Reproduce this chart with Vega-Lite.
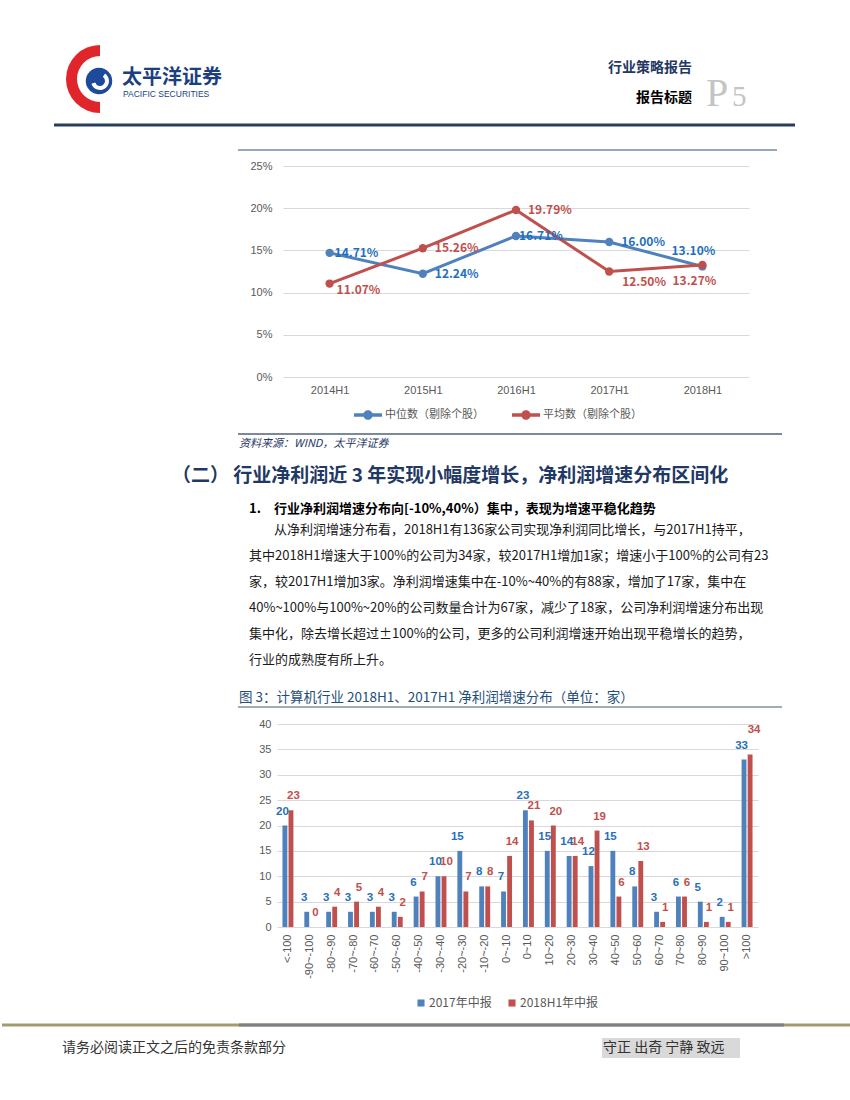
{
  "$schema": "https://vega.github.io/schema/vega-lite/v6.json",
  "padding": 0,
  "spacing": 0,
  "bounds": "flush",
  "background": "white",
  "resolve": {"scale": {"color": "independent"}, "legend": {"color": "independent"}},
  "config": {"view": {"stroke": null}, "font": "Noto Sans CJK SC"},
  "datasets": {
    "one": [{}],
    "trend": [
      {"period": "2014H1", "series": "中位数（剔除个股）", "value": 0.1471},
      {"period": "2015H1", "series": "中位数（剔除个股）", "value": 0.1224},
      {"period": "2016H1", "series": "中位数（剔除个股）", "value": 0.1671},
      {"period": "2017H1", "series": "中位数（剔除个股）", "value": 0.1600},
      {"period": "2018H1", "series": "中位数（剔除个股）", "value": 0.1310},
      {"period": "2014H1", "series": "平均数（剔除个股）", "value": 0.1107},
      {"period": "2015H1", "series": "平均数（剔除个股）", "value": 0.1526},
      {"period": "2016H1", "series": "平均数（剔除个股）", "value": 0.1979},
      {"period": "2017H1", "series": "平均数（剔除个股）", "value": 0.1250},
      {"period": "2018H1", "series": "平均数（剔除个股）", "value": 0.1327}
    ],
    "dist": [
      {"range": "<-100", "series": "2017年中报", "count": 20}, {"range": "<-100", "series": "2018H1年中报", "count": 23},
      {"range": "-90~-100", "series": "2017年中报", "count": 3}, {"range": "-90~-100", "series": "2018H1年中报", "count": 0},
      {"range": "-80~-90", "series": "2017年中报", "count": 3}, {"range": "-80~-90", "series": "2018H1年中报", "count": 4},
      {"range": "-70~-80", "series": "2017年中报", "count": 3}, {"range": "-70~-80", "series": "2018H1年中报", "count": 5},
      {"range": "-60~-70", "series": "2017年中报", "count": 3}, {"range": "-60~-70", "series": "2018H1年中报", "count": 4},
      {"range": "-50~-60", "series": "2017年中报", "count": 3}, {"range": "-50~-60", "series": "2018H1年中报", "count": 2},
      {"range": "-40~-50", "series": "2017年中报", "count": 6}, {"range": "-40~-50", "series": "2018H1年中报", "count": 7},
      {"range": "-30~-40", "series": "2017年中报", "count": 10}, {"range": "-30~-40", "series": "2018H1年中报", "count": 10},
      {"range": "-20~-30", "series": "2017年中报", "count": 15}, {"range": "-20~-30", "series": "2018H1年中报", "count": 7},
      {"range": "-10~-20", "series": "2017年中报", "count": 8}, {"range": "-10~-20", "series": "2018H1年中报", "count": 8},
      {"range": "0~-10", "series": "2017年中报", "count": 7}, {"range": "0~-10", "series": "2018H1年中报", "count": 14},
      {"range": "0~10", "series": "2017年中报", "count": 23}, {"range": "0~10", "series": "2018H1年中报", "count": 21},
      {"range": "10~20", "series": "2017年中报", "count": 15}, {"range": "10~20", "series": "2018H1年中报", "count": 20},
      {"range": "20~30", "series": "2017年中报", "count": 14}, {"range": "20~30", "series": "2018H1年中报", "count": 14},
      {"range": "30~40", "series": "2017年中报", "count": 12}, {"range": "30~40", "series": "2018H1年中报", "count": 19},
      {"range": "40~50", "series": "2017年中报", "count": 15}, {"range": "40~50", "series": "2018H1年中报", "count": 6},
      {"range": "50~60", "series": "2017年中报", "count": 8}, {"range": "50~60", "series": "2018H1年中报", "count": 13},
      {"range": "60~70", "series": "2017年中报", "count": 3}, {"range": "60~70", "series": "2018H1年中报", "count": 1},
      {"range": "70~80", "series": "2017年中报", "count": 6}, {"range": "70~80", "series": "2018H1年中报", "count": 6},
      {"range": "80~90", "series": "2017年中报", "count": 5}, {"range": "80~90", "series": "2018H1年中报", "count": 1},
      {"range": "90~100", "series": "2017年中报", "count": 2}, {"range": "90~100", "series": "2018H1年中报", "count": 1},
      {"range": ">100", "series": "2017年中报", "count": 33}, {"range": ">100", "series": "2018H1年中报", "count": 34}
    ],
    "body": [
      {"line": 1, "text": "从净利润增速分布看，2018H1有136家公司实现净利润同比增长，与2017H1持平，"},
      {"line": 2, "text": "其中2018H1增速大于100%的公司为34家，较2017H1增加1家；增速小于100%的公司有23"},
      {"line": 3, "text": "家，较2017H1增加3家。净利润增速集中在-10%~40%的有88家，增加了17家，集中在"},
      {"line": 4, "text": "40%~100%与100%~20%的公司数量合计为67家，减少了18家，公司净利润增速分布出现"},
      {"line": 5, "text": "集中化，除去增长超过±100%的公司，更多的公司利润增速开始出现平稳增长的趋势，"},
      {"line": 6, "text": "行业的成熟度有所上升。"}
    ]
  },
  "vconcat": [
    {
      "width": 850, "height": 166,
      "data": {"name": "one"},
      "layer": [
        {"mark": {"type": "arc", "theta": 3.1416, "theta2": 6.2832, "radius": 34, "radius2": 23, "fill": "#E0262B"}, "encoding": {"x": {"value": 98}, "y": {"value": 79}}},
        {"mark": {"type": "circle", "size": 700, "fill": "#1D4A9B", "opacity": 1}, "encoding": {"x": {"value": 97}, "y": {"value": 81}}},
        {"mark": {"type": "arc", "theta": 0.6, "theta2": 4.4, "radius": 9, "radius2": 5, "fill": "white"}, "encoding": {"x": {"value": 98}, "y": {"value": 81}}},
        {"mark": {"type": "text", "text": "太平洋证券", "fontSize": 20, "fontWeight": "bold", "fill": "#1C3F7F", "align": "left", "baseline": "middle"}, "encoding": {"x": {"value": 120}, "y": {"value": 78}}},
        {"mark": {"type": "text", "text": "PACIFIC SECURITIES", "font": "Liberation Sans", "fontSize": 8.5, "fill": "#1C3F7F", "align": "left", "baseline": "middle"}, "encoding": {"x": {"value": 121}, "y": {"value": 94}}},
        {"mark": {"type": "text", "text": "行业策略报告", "fontSize": 14, "fontWeight": "bold", "fill": "#1F3864", "align": "right", "baseline": "middle"}, "encoding": {"x": {"value": 690}, "y": {"value": 68}}},
        {"mark": {"type": "text", "text": "报告标题", "fontSize": 14, "fontWeight": "bold", "fill": "#000000", "align": "right", "baseline": "middle"}, "encoding": {"x": {"value": 690}, "y": {"value": 98}}},
        {"mark": {"type": "text", "text": "P", "font": "Liberation Serif", "fontSize": 40, "fill": "#C4C4C4", "align": "left", "baseline": "alphabetic"}, "encoding": {"x": {"value": 704}, "y": {"value": 106}}},
        {"mark": {"type": "text", "text": "5", "font": "Liberation Serif", "fontSize": 29, "fill": "#C4C4C4", "align": "left", "baseline": "alphabetic"}, "encoding": {"x": {"value": 730}, "y": {"value": 106}}},
        {"mark": {"type": "rule", "stroke": "#263E5E", "strokeWidth": 3}, "encoding": {"x": {"value": 52}, "x2": {"value": 793}, "y": {"value": 125}}},
        {"mark": {"type": "rule", "stroke": "#98A8BC", "strokeWidth": 2}, "encoding": {"x": {"value": 236}, "x2": {"value": 775}, "y": {"value": 150}}}
      ]
    },
    {
      "width": 850, "height": 211,
      "data": {"name": "trend"},
      "encoding": {
        "x": {"field": "period", "type": "nominal", "sort": null,
          "scale": {"type": "point", "domain": ["2014H1", "2015H1", "2016H1", "2017H1", "2018H1"], "range": [281, 747], "padding": 0.5},
          "axis": {"title": null, "domain": false, "ticks": false, "tickSize": 0, "grid": false, "labelAngle": 0, "labelPadding": 7, "labelColor": "#595959", "labelFontSize": 11, "labelFont": "Liberation Sans"}},
        "y": {"field": "value", "type": "quantitative",
          "scale": {"domain": [0, 0.25], "nice": false},
          "axis": {"title": null, "offset": -281, "values": [0, 0.05, 0.1, 0.15, 0.2, 0.25], "format": ".0%", "domain": false, "ticks": false, "tickSize": 0, "labelPadding": 11, "labelColor": "#595959", "labelFontSize": 11, "labelFont": "Liberation Sans", "grid": true, "gridColor": "#D9D9D9"}}
      },
      "layer": [
        {"mark": {"type": "line", "strokeWidth": 3},
          "encoding": {"color": {"field": "series", "type": "nominal", "sort": null,
            "scale": {"domain": ["中位数（剔除个股）", "平均数（剔除个股）"], "range": ["#4F81BD", "#C0504D"]},
            "legend": {"orient": "none", "legendX": 352, "legendY": 235, "direction": "horizontal", "title": null,
              "symbolType": "M-1,-0.12L-0.31,-0.12L-0.31,0.12L-1,0.12Z M0.31,-0.12L1,-0.12L1,0.12L0.31,0.12Z M-0.34,0A0.34,0.34 0 1,1 0.34,0A0.34,0.34 0 1,1 -0.34,0Z",
              "symbolSize": 784, "symbolStrokeWidth": 0, "labelFontSize": 11, "labelColor": "#595959", "columnPadding": 28, "labelOffset": 3,
              "encode": {"symbols": {"update": {"fill": {"scale": "color", "field": "value"}, "stroke": {"value": "transparent"}}}}}}}},
        {"mark": {"type": "point", "filled": true, "size": 70, "opacity": 1},
          "encoding": {"color": {"field": "series", "type": "nominal", "sort": null}}},
        {"transform": [{"filter": "datum.series == '中位数（剔除个股）' && datum.period == '2014H1'"}],
          "mark": {"type": "text", "fontSize": 12, "fontWeight": "bold", "fill": "#1F6FC0", "align": "left", "baseline": "middle", "dx": 5},
          "encoding": {"text": {"field": "value", "type": "quantitative", "format": ".2%"}}},
        {"transform": [{"filter": "datum.series == '中位数（剔除个股）' && (datum.period == '2015H1' || datum.period == '2017H1')"}],
          "mark": {"type": "text", "fontSize": 12, "fontWeight": "bold", "fill": "#1F6FC0", "align": "left", "baseline": "middle", "dx": 12},
          "encoding": {"text": {"field": "value", "type": "quantitative", "format": ".2%"}}},
        {"transform": [{"filter": "datum.series == '中位数（剔除个股）' && datum.period == '2016H1'"}],
          "mark": {"type": "text", "fontSize": 12, "fontWeight": "bold", "fill": "#1F6FC0", "align": "left", "baseline": "middle", "dx": 3},
          "encoding": {"text": {"field": "value", "type": "quantitative", "format": ".2%"}}},
        {"transform": [{"filter": "datum.series == '中位数（剔除个股）' && datum.period == '2018H1'"}],
          "mark": {"type": "text", "fontSize": 12, "fontWeight": "bold", "fill": "#1F6FC0", "align": "center", "baseline": "middle", "dx": -9, "dy": -15},
          "encoding": {"text": {"field": "value", "type": "quantitative", "format": ".2%"}}},
        {"transform": [{"filter": "datum.series == '平均数（剔除个股）' && datum.period == '2014H1'"}],
          "mark": {"type": "text", "fontSize": 12, "fontWeight": "bold", "fill": "#C0504D", "align": "left", "baseline": "middle", "dx": 7, "dy": 6},
          "encoding": {"text": {"field": "value", "type": "quantitative", "format": ".2%"}}},
        {"transform": [{"filter": "datum.series == '平均数（剔除个股）' && (datum.period == '2015H1' || datum.period == '2016H1')"}],
          "mark": {"type": "text", "fontSize": 12, "fontWeight": "bold", "fill": "#C0504D", "align": "left", "baseline": "middle", "dx": 12},
          "encoding": {"text": {"field": "value", "type": "quantitative", "format": ".2%"}}},
        {"transform": [{"filter": "datum.series == '平均数（剔除个股）' && datum.period == '2017H1'"}],
          "mark": {"type": "text", "fontSize": 12, "fontWeight": "bold", "fill": "#C0504D", "align": "left", "baseline": "middle", "dx": 13, "dy": 10},
          "encoding": {"text": {"field": "value", "type": "quantitative", "format": ".2%"}}},
        {"transform": [{"filter": "datum.series == '平均数（剔除个股）' && datum.period == '2018H1'"}],
          "mark": {"type": "text", "fontSize": 12, "fontWeight": "bold", "fill": "#C0504D", "align": "center", "baseline": "middle", "dx": -8, "dy": 16},
          "encoding": {"text": {"field": "value", "type": "quantitative", "format": ".2%"}}}
      ]
    },
    {
      "width": 850, "height": 347,
      "layer": [
        {"data": {"name": "one"}, "mark": {"type": "rule", "stroke": "#4F6278", "strokeWidth": 1.5}, "encoding": {"x": {"value": 236}, "x2": {"value": 780}, "y": {"value": 57}}},
        {"data": {"name": "one"}, "mark": {"type": "text", "text": "资料来源：WIND，太平洋证券", "fontSize": 11, "fontStyle": "italic", "fill": "#1F3864", "align": "left", "baseline": "middle"}, "encoding": {"x": {"value": 237}, "y": {"value": 67}}},
        {"data": {"name": "one"}, "mark": {"type": "text", "text": "（二） 行业净利润近 3 年实现小幅度增长，净利润增速分布区间化", "fontSize": 19, "fontWeight": "bold", "fill": "#1F3864", "align": "left", "baseline": "middle"}, "encoding": {"x": {"value": 170}, "y": {"value": 99}}},
        {"data": {"name": "one"}, "mark": {"type": "text", "text": "1.", "fontSize": 13, "fontWeight": "bold", "fill": "#000000", "align": "left", "baseline": "middle"}, "encoding": {"x": {"value": 247}, "y": {"value": 132}}},
        {"data": {"name": "one"}, "mark": {"type": "text", "text": "行业净利润增速分布向[-10%,40%）集中，表现为增速平稳化趋势", "fontSize": 13, "fontWeight": "bold", "fill": "#000000", "align": "left", "baseline": "middle"}, "encoding": {"x": {"value": 272}, "y": {"value": 132}}},
        {"data": {"name": "body"}, "transform": [{"filter": "datum.line == 1"}], "mark": {"type": "text", "fontSize": 13, "fill": "#1A1A1A", "align": "left", "baseline": "middle"},
          "encoding": {"x": {"value": 272}, "y": {"field": "line", "type": "ordinal", "scale": {"type": "point", "domain": [1, 2, 3, 4, 5, 6], "range": [153, 283], "padding": 0}, "axis": null}, "text": {"field": "text"}}},
        {"data": {"name": "body"}, "transform": [{"filter": "datum.line > 1"}], "mark": {"type": "text", "fontSize": 13, "fill": "#1A1A1A", "align": "left", "baseline": "middle"},
          "encoding": {"x": {"value": 247}, "y": {"field": "line", "type": "ordinal", "axis": null}, "text": {"field": "text"}}},
        {"data": {"name": "one"}, "mark": {"type": "text", "text": "图 3：计算机行业 2018H1、2017H1 净利润增速分布（单位：家）", "fontSize": 13.5, "fill": "#1F4E79", "align": "left", "baseline": "middle"}, "encoding": {"x": {"value": 237}, "y": {"value": 321}}},
        {"data": {"name": "one"}, "mark": {"type": "rule", "stroke": "#7F8EA3", "strokeWidth": 1.5}, "encoding": {"x": {"value": 236}, "x2": {"value": 780}, "y": {"value": 330}}}
      ]
    },
    {
      "width": 850, "height": 203,
      "data": {"name": "dist"},
      "encoding": {
        "x": {"field": "range", "type": "nominal", "sort": null,
          "scale": {"type": "band", "domain": ["<-100", "-90~-100", "-80~-90", "-70~-80", "-60~-70", "-50~-60", "-40~-50", "-30~-40", "-20~-30", "-10~-20", "0~-10", "0~10", "10~20", "20~30", "30~40", "40~50", "50~60", "60~70", "70~80", "80~90", "90~100", ">100"], "range": [275, 756], "paddingInner": 0.5, "paddingOuter": 0.25},
          "axis": {"title": null, "labelAngle": -90, "domain": false, "ticks": false, "tickSize": 0, "labelPadding": 7, "labelColor": "#595959", "labelFontSize": 11, "labelFont": "Liberation Sans", "grid": false}},
        "xOffset": {"field": "series", "type": "nominal", "sort": null, "scale": {"domain": ["2017年中报", "2018H1年中报"], "paddingInner": 0.2, "paddingOuter": 0}},
        "y": {"field": "count", "type": "quantitative",
          "scale": {"domain": [0, 40], "nice": false},
          "axis": {"title": null, "offset": -275, "values": [0, 5, 10, 15, 20, 25, 30, 35, 40], "domain": false, "ticks": false, "tickSize": 0, "labelPadding": 6, "labelColor": "#595959", "labelFontSize": 11, "labelFont": "Liberation Sans", "grid": true, "gridColor": "#D9D9D9"}}
      },
      "layer": [
        {"mark": {"type": "bar"},
          "encoding": {"color": {"field": "series", "type": "nominal", "sort": null,
            "scale": {"domain": ["2017年中报", "2018H1年中报"], "range": ["#4F81BD", "#C0504D"]},
            "legend": {"orient": "none", "legendX": 413, "legendY": 273, "direction": "horizontal", "title": null, "symbolType": "square", "symbolSize": 50, "symbolStrokeWidth": 0, "labelFontSize": 12, "labelColor": "#595959", "columnPadding": 14, "labelOffset": 2}}}},
        {"transform": [{"filter": "datum.series == '2017年中报'"}],
          "mark": {"type": "text", "font": "Liberation Sans", "fontSize": 11.5, "fontWeight": "bold", "fill": "#2870BA", "baseline": "middle", "dx": -2.5, "dy": -14},
          "encoding": {"text": {"field": "count", "type": "quantitative"}}},
        {"transform": [{"filter": "datum.series == '2018H1年中报' && datum.range != '>100'"}],
          "mark": {"type": "text", "font": "Liberation Sans", "fontSize": 11.5, "fontWeight": "bold", "fill": "#C0504D", "baseline": "middle", "dx": 2.5, "dy": -14},
          "encoding": {"text": {"field": "count", "type": "quantitative"}}},
        {"transform": [{"filter": "datum.series == '2018H1年中报' && datum.range == '>100'"}],
          "mark": {"type": "text", "font": "Liberation Sans", "fontSize": 11.5, "fontWeight": "bold", "fill": "#C0504D", "baseline": "middle", "dx": 4, "dy": -24},
          "encoding": {"text": {"field": "count", "type": "quantitative"}}}
      ]
    },
    {
      "width": 850, "height": 173,
      "data": {"name": "one"},
      "layer": [
        {"mark": {"type": "rule", "stroke": "#A39B6E", "strokeWidth": 3}, "encoding": {"x": {"value": 0}, "x2": {"value": 850}, "y": {"value": 98}}},
        {"mark": {"type": "rule", "stroke": "#808080", "strokeWidth": 3}, "encoding": {"x": {"value": 237}, "x2": {"value": 782}, "y": {"value": 98}}},
        {"mark": {"type": "text", "text": "请务必阅读正文之后的免责条款部分", "fontSize": 14, "fill": "#333333", "align": "left", "baseline": "middle"}, "encoding": {"x": {"value": 60}, "y": {"value": 121}}},
        {"mark": {"type": "rect", "fill": "#D9D9D9"}, "encoding": {"x": {"value": 600}, "x2": {"value": 738}, "y": {"value": 111}, "y2": {"value": 131}}},
        {"mark": {"type": "text", "text": "守正 出奇 宁静 致远", "fontSize": 14, "fill": "#333333", "align": "left", "baseline": "middle"}, "encoding": {"x": {"value": 601}, "y": {"value": 121}}}
      ]
    }
  ]
}
